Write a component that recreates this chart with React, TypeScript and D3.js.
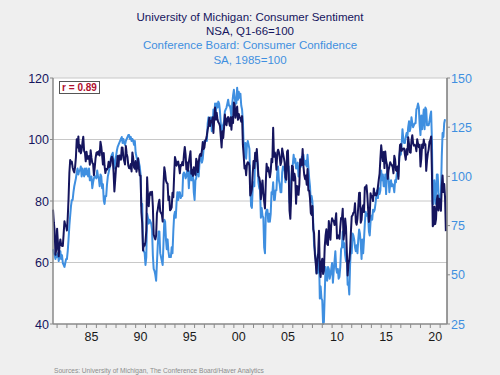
import React from "react";
import * as d3 from "d3";

// Monthly data, University of Michigan Consumer Sentiment (NSA, Q1-66=100), Aug 1981 – Aug 2021
const michiganStart = { year: 1981, month: 7 };
const michigan: number[] = [
  77.2, 73.1, 70.3, 62.5, 64.3,
  71.0, 66.5, 62.0, 65.5, 67.5, 65.7, 65.4, 65.4, 69.3, 73.4, 72.1, 71.9,
  70.4, 74.6, 80.8, 89.1, 93.3, 92.2, 92.8, 90.9, 89.9, 89.3, 91.1, 94.2,
  100.1, 97.4, 101.0, 96.1, 98.1, 95.5, 96.6, 99.1, 100.9, 96.3, 95.7, 92.9,
  96.0, 93.7, 93.7, 94.6, 91.8, 96.5, 94.0, 92.4, 92.1, 88.4, 90.9, 93.9,
  95.6, 95.9, 95.1, 96.2, 94.8, 99.3, 97.7, 94.9, 91.9, 95.6, 91.4, 89.1,
  90.4, 90.2, 90.8, 92.8, 91.1, 91.5, 93.7, 94.4, 93.6, 89.3, 83.1, 86.8,
  90.8, 91.6, 94.6, 91.2, 94.8, 94.7, 93.4, 97.4, 97.3, 94.1, 93.0, 91.9,
  97.9, 95.4, 94.3, 91.5, 90.7, 90.6, 92.0, 89.6, 95.8, 93.9, 90.9, 90.5,
  93.0, 89.5, 91.3, 93.9, 90.6, 88.3, 88.2, 76.4, 72.8, 63.9, 66.0, 65.5,
  66.8, 70.4, 87.7, 81.8, 78.3, 82.1, 82.9, 82.0, 83.0, 78.3, 69.1, 68.2,
  67.5, 68.8, 76.0, 77.2, 79.2, 80.4, 76.6, 76.1, 75.6, 73.3, 85.3, 91.0,
  89.3, 86.6, 85.9, 85.6, 80.3, 81.5, 77.0, 77.3, 77.9, 82.7, 81.2, 88.2,
  94.3, 93.2, 91.5, 92.6, 92.8, 91.2, 89.0, 91.7, 91.5, 92.7, 91.6, 95.1,
  97.6, 95.1, 90.3, 92.5, 89.8, 92.7, 94.4, 96.2, 88.9, 90.2, 88.2, 91.0,
  89.3, 88.5, 93.7, 92.7, 89.4, 92.4, 94.7, 95.3, 94.7, 96.5, 99.2, 96.9,
  97.4, 99.7, 100.0, 101.4, 103.2, 104.5, 107.1, 104.4, 106.0, 105.6, 107.2, 102.1,
  106.6, 110.4, 106.5, 108.7, 106.5, 105.6, 105.2, 104.4, 100.9, 97.4, 102.7, 100.5,
  103.9, 108.1, 105.7, 104.6, 106.8, 107.3, 106.0, 104.5, 107.2, 103.2, 107.2, 105.4,
  112.0, 111.3, 107.1, 109.2, 110.7, 106.4, 108.3, 107.3, 106.8, 105.8, 107.6, 98.4,
  94.7, 90.6, 91.5, 88.4, 92.0, 92.6, 92.4, 91.5, 81.8, 82.7, 83.9, 88.8,
  93.0, 90.7, 95.7, 93.0, 96.9, 92.4, 88.1, 87.6, 86.1, 80.6, 84.2, 86.7,
  82.4, 79.9, 77.6, 86.0, 92.1, 89.7, 90.9, 89.3, 87.7, 89.6, 93.7, 92.6,
  103.8, 94.4, 95.8, 94.2, 90.2, 95.6, 96.7, 95.9, 94.2, 91.7, 92.8, 97.1,
  95.5, 94.1, 92.6, 87.7, 86.9, 96.0, 96.5, 89.1, 76.9, 74.2, 81.6, 91.5,
  91.2, 86.7, 88.9, 87.4, 79.1, 84.9, 84.7, 82.0, 85.4, 93.6, 92.1, 91.7,
  96.9, 91.3, 88.4, 87.1, 88.3, 85.3, 90.4, 83.4, 83.4, 80.9, 76.1, 75.5,
  78.4, 70.8, 69.5, 62.6, 59.8, 56.4, 61.2, 63.0, 70.3, 57.6, 55.3, 60.1,
  61.2, 56.3, 57.3, 65.1, 68.7, 70.8, 66.0, 65.7, 73.5, 70.6, 67.4, 72.5,
  74.4, 73.6, 73.6, 72.2, 73.6, 76.0, 67.8, 68.9, 68.2, 67.7, 71.6, 74.5,
  74.2, 77.5, 67.5, 69.8, 74.3, 71.5, 63.7, 55.8, 59.5, 60.8, 63.7, 69.9,
  75.0, 75.3, 76.2, 76.4, 79.3, 73.2, 72.3, 74.3, 78.3, 82.6, 82.7, 72.9,
  73.8, 77.6, 78.6, 76.4, 84.5, 84.1, 85.1, 82.1, 77.5, 73.2, 75.1, 82.5,
  81.2, 81.6, 80.0, 84.1, 81.9, 82.5, 81.8, 82.5, 84.6, 86.9, 88.8, 93.6,
  98.1, 95.4, 93.0, 95.9, 90.7, 96.1, 93.1, 91.9, 87.2, 90.0, 91.3, 92.6,
  92.0, 91.7, 91.0, 89.0, 94.7, 93.5, 90.0, 89.8, 91.2, 87.2, 93.8, 98.2,
  98.5, 96.3, 96.9, 97.0, 97.1, 95.0, 93.4, 96.8, 95.1, 100.7, 98.5, 95.9,
  95.7, 99.7, 101.4, 98.8, 98.0, 98.2, 97.9, 96.2, 100.1, 98.6, 97.5, 98.3,
  91.2, 93.8, 98.4, 97.2, 100.0, 98.2, 98.4, 89.8, 93.2, 95.5, 96.8, 99.3,
  99.8, 101.0, 89.1, 71.8, 72.3, 78.1, 72.5, 74.1, 80.4, 81.8, 76.9, 80.7,
  79.0, 76.8, 84.9, 88.3, 82.9, 85.5, 81.2, 70.2,
];

// Monthly data, Conference Board Consumer Confidence (SA, 1985=100), Aug 1981 – Jul 2021
const conferenceStart = { year: 1981, month: 7 };
const conference: number[] = [
  63, 61, 60, 58, 60,
  59, 61, 57, 60, 62, 58, 60, 56, 55, 54, 56, 58,
  58, 62, 68, 75, 80, 85, 88, 88, 92, 95, 97, 99,
  102, 104, 101, 103, 103, 105, 100, 104, 102, 100, 104, 101,
  104, 101, 100, 104, 98, 98, 100, 94, 97, 99, 100, 100,
  99, 103, 100, 99, 95, 101, 100, 94, 96, 88, 86, 90,
  90, 96, 100, 102, 104, 107, 110, 111, 112, 108, 104, 107,
  110, 113, 115, 116, 117, 118, 119, 120, 117, 119, 117, 116,
  118, 119, 120, 121, 121, 119, 120, 118, 119, 118, 116, 118,
  112, 110, 108, 109, 107, 105, 101, 85, 86, 63, 62, 61,
  55, 59, 81, 79, 76, 78, 77, 76, 73, 60, 53, 52,
  50, 47, 56, 65, 72, 72, 61, 59, 57, 55, 66, 78,
  77, 68, 63, 68, 62, 59, 59, 59, 64, 61, 72, 80,
  82, 79, 87, 92, 88, 92, 92, 89, 90, 90, 101, 102,
  101, 99, 100, 104, 102, 94, 102, 103, 98, 98, 102, 92,
  88, 98, 99, 105, 103, 100, 107, 109, 111, 107, 109, 114,
  118, 118, 118, 118, 127, 130, 126, 127, 130, 123, 124, 134,
  129, 137, 133, 137, 135, 138, 137, 133, 127, 119, 126, 126,
  128, 133, 134, 135, 137, 139, 136, 136, 134, 130, 137, 141,
  144, 140, 137, 137, 145, 139, 143, 140, 142, 136, 134, 128,
  115, 110, 117, 109, 116, 118, 116, 114, 97, 85, 84, 94,
  97, 95, 110, 108, 110, 106, 97, 94, 93, 79, 84, 80,
  79, 64, 61, 81, 83, 83, 77, 81, 77, 81, 92, 91,
  97, 88, 88, 93, 93, 102, 105, 98, 96, 92, 92, 102,
  105, 104, 103, 97, 102, 106, 103, 105, 87, 85, 98, 103,
  106, 111, 107, 109, 104, 105, 107, 100, 105, 105, 105, 110,
  110, 111, 107, 106, 108, 105, 111, 105, 99, 95, 87, 90,
  87, 76, 65, 62, 58, 51, 51, 58, 61, 38, 44, 38,
  37, 25, 26, 40, 54, 49, 47, 54, 53, 48, 50, 53,
  56, 46, 52, 57, 62, 53, 51, 53, 48, 49, 54, 63,
  64, 72, 64, 66, 60, 57, 59, 45, 46, 40, 55, 64,
  61, 71, 70, 68, 64, 62, 65, 61, 68, 73, 71, 66,
  58, 68, 61, 68, 76, 82, 80, 81, 80, 72, 70, 77,
  80, 78, 83, 82, 83, 86, 90, 93, 89, 94, 91, 93,
  103, 98, 101, 95, 95, 101, 91, 102, 103, 99, 92, 96,
  98, 95, 96, 95, 92, 98, 97, 101, 103, 100, 109, 113,
  111, 116, 124, 119, 117, 117, 120, 122, 120, 125, 128, 123,
  125, 130, 127, 125, 126, 127, 127, 134, 135, 137, 135, 126,
  121, 131, 124, 129, 134, 124, 135, 134, 126, 126, 126, 128,
  131, 133, 118, 86, 86, 98, 92, 86, 101, 101, 92, 88,
  89, 91, 110, 122, 120, 127, 129,
];

const leftTicks = [40, 60, 80, 100, 120];
const rightTicks = [25, 50, 75, 100, 125, 150];
const gridValues = [60, 80, 100];
const xLabelYears = [1985, 1990, 1995, 2000, 2005, 2010, 2015, 2020];
const titleLines = [
  "University of Michigan: Consumer Sentiment",
  "NSA, Q1-66=100",
  "Conference Board: Consumer Confidence",
  "SA, 1985=100",
];
const corrLabel = "r = 0.89";
const sourceText = "Sources: University of Michigan, The Conference Board/Haver Analytics";

const W = 500;
const H = 375;
const plot = { left: 53, right: 447, top: 78, bottom: 324 };
const NAVY = "#15155e";
const LIGHT = "#3f8fe0";
const FONT = "'Liberation Sans', Arial, Helvetica, sans-serif";

function toPoints(values: number[], start: { year: number; month: number }) {
  return values.map((v, i) => ({ t: start.year + (start.month + i) / 12, v }));
}

export default function App() {
  const x = d3.scaleLinear().domain([1981 + 7 / 12, 2021.7]).range([plot.left, plot.right]);
  const yL = d3.scaleLinear().domain([40, 120]).range([plot.bottom, plot.top]);
  const yR = d3.scaleLinear().domain([25, 150]).range([plot.bottom, plot.top]);

  const mPts = toPoints(michigan, michiganStart);
  const cPts = toPoints(conference, conferenceStart);
  const lineL = d3.line<{ t: number; v: number }>().x((d) => x(d.t)).y((d) => yL(d.v));
  const lineR = d3.line<{ t: number; v: number }>().x((d) => x(d.t)).y((d) => yR(d.v));

  const yearTicks = d3.range(1982, 2022);

  return (
    <svg width={W} height={H} style={{ position: "absolute", left: 0, top: 0 }} fontFamily={FONT}>
      <rect x={0} y={0} width={W} height={H} fill="#efefef" />
      {titleLines.map((t, i) => (
        <text key={i} x={250} y={21 + i * 14.2} textAnchor="middle" fontSize={11.5} fill={i < 2 ? NAVY : LIGHT}>
          {t}
        </text>
      ))}
      <rect x={plot.left} y={plot.top} width={plot.right - plot.left} height={plot.bottom - plot.top} fill="#ffffff" />
      <line x1={plot.left} x2={plot.right} y1={plot.top} y2={plot.top} stroke="#c8c8c8" strokeWidth={1} />
      {gridValues.map((g) => (
        <line key={g} x1={plot.left} x2={plot.right} y1={yL(g)} y2={yL(g)} stroke="#c8c8c8" strokeWidth={1} />
      ))}
      <path d={lineR(cPts) || ""} fill="none" stroke={LIGHT} strokeWidth={2} strokeLinejoin="round" />
      <path d={lineL(mPts) || ""} fill="none" stroke={NAVY} strokeWidth={2} strokeLinejoin="round" />
      {/* axes */}
      <line x1={plot.left} x2={plot.left} y1={plot.top} y2={plot.bottom} stroke="#8a8a8a" strokeWidth={1.5} />
      <line x1={plot.right} x2={plot.right} y1={plot.top} y2={plot.bottom} stroke="#7a7a7a" strokeWidth={1.5} />
      <line x1={plot.left} x2={plot.right} y1={plot.bottom} y2={plot.bottom} stroke="#8a8a8a" strokeWidth={1.5} />
      {leftTicks.map((t) => (
        <g key={t}>
          <line x1={plot.left - 3} x2={plot.left} y1={yL(t)} y2={yL(t)} stroke="#8a8a8a" />
          <text x={plot.left - 4} y={yL(t)} dy="0.36em" textAnchor="end" fontSize={12.5} fill={NAVY}>
            {t}
          </text>
        </g>
      ))}
      {rightTicks.map((t) => (
        <g key={t}>
          <line x1={plot.right} x2={plot.right + 3} y1={yR(t)} y2={yR(t)} stroke="#8a8a8a" />
          <text x={plot.right + 4} y={yR(t)} dy="0.36em" textAnchor="start" fontSize={12.5} fill={LIGHT}>
            {t}
          </text>
        </g>
      ))}
      {yearTicks.map((yr) => (
        <line key={yr} x1={x(yr)} x2={x(yr)} y1={plot.bottom} y2={plot.bottom + 4} stroke="#8a8a8a" />
      ))}
      {xLabelYears.map((yr) => (
        <text key={yr} x={x(yr + 0.5)} y={341} textAnchor="middle" fontSize={12.5} fill="#1a1a1a">
          {String(yr % 100).padStart(2, "0")}
        </text>
      ))}
      <rect x={59.5} y={81.5} width={40} height={12} fill="#ffffff" stroke="#555555" strokeWidth={1} />
      <text x={79.5} y={91} textAnchor="middle" fontSize={10} fontWeight="bold" fill="#b0102e">
        {corrLabel}
      </text>
      <text x={54} y={373} fontSize={6.6} fill="#8c8c8c">
        {sourceText}
      </text>
    </svg>
  );
}
